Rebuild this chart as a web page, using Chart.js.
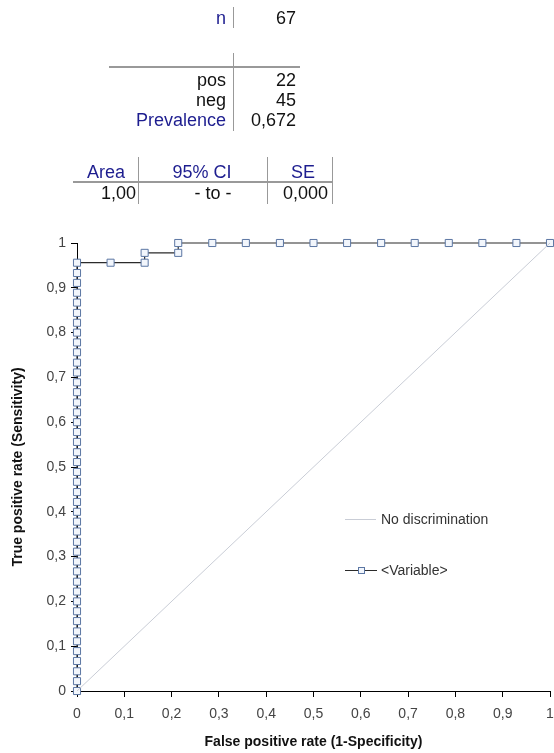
<!DOCTYPE html>
<html>
<head>
<meta charset="utf-8">
<script src="https://cdn.jsdelivr.net/npm/chart.js@4"></script>
<style>
  body { margin: 0; background: #fff; font-family: "Liberation Sans", Arial, sans-serif; }
  #wrap { position: relative; width: 554px; height: 753px; }
  #roc { position: absolute; left: 0; top: 0; }
  .t { position: absolute; font-size: 18px; color: #111; white-space: nowrap; line-height: 20px; }
  .blue { color: #1d1d8f; }
  .r { text-align: right; }
  .c { text-align: center; }
  .vl { position: absolute; width: 1px; background: #999; }
  .hl { position: absolute; height: 2px; background: #999; }
</style>
</head>
<body>
<div id="wrap">
  <canvas id="roc" width="554" height="753"></canvas>

  <div class="t blue r" style="left:150px;width:76px;top:8px">n</div>
  <div class="vl" style="left:233px;top:7px;height:21px"></div>
  <div class="t r" style="left:240px;width:56px;top:8px" id="nVal"></div>

  <div class="vl" style="left:233px;top:53px;height:78px"></div>
  <div class="hl" style="left:109px;top:66px;width:191px"></div>
  <div class="t r" style="left:110px;width:116px;top:70px">pos</div>
  <div class="t r" style="left:110px;width:116px;top:90px">neg</div>
  <div class="t blue r" style="left:110px;width:116px;top:110px">Prevalence</div>
  <div class="t r" style="left:240px;width:56px;top:70px" id="posVal"></div>
  <div class="t r" style="left:240px;width:56px;top:90px" id="negVal"></div>
  <div class="t r" style="left:240px;width:56px;top:110px" id="prevVal"></div>

  <div class="vl" style="left:138px;top:157px;height:47px"></div>
  <div class="vl" style="left:267px;top:157px;height:47px"></div>
  <div class="vl" style="left:332px;top:157px;height:47px"></div>
  <div class="hl" style="left:73px;top:181px;width:260px"></div>
  <div class="t blue c" style="left:66px;width:80px;top:162px">Area</div>
  <div class="t blue c" style="left:152px;width:100px;top:162px">95% CI</div>
  <div class="t blue c" style="left:273px;width:60px;top:162px">SE</div>
  <div class="t r" style="left:60px;width:76px;top:183px" id="areaVal"></div>
  <div class="t c" style="left:163px;width:100px;top:183px">- to -</div>
  <div class="t r" style="left:268px;width:60px;top:183px" id="seVal"></div>
</div>

<script>
// summary table values
const countN = "67";
const countPos = "22";
const countNeg = "45";
const prevalence = "0,672";
const aucArea = "1,00";
const aucSE = "0,000";

// ROC curve points
const fprValues = [
  0, 0, 0, 0, 0, 0, 0, 0, 0, 0, 0, 0, 0, 0, 0, 0, 0, 0, 0, 0, 0, 0,
  0, 0, 0, 0, 0, 0, 0, 0, 0, 0, 0, 0, 0, 0, 0, 0, 0, 0, 0, 0, 0, 0,
  0.071, 0.143, 0.143, 0.214, 0.214, 0.286, 0.357, 0.429, 0.5, 0.571,
  0.643, 0.714, 0.786, 0.857, 0.929, 1
];
const tprValues = [
  0, 0.022, 0.044, 0.067, 0.089, 0.111, 0.133, 0.156, 0.178, 0.2, 0.222,
  0.244, 0.267, 0.289, 0.311, 0.333, 0.356, 0.378, 0.4, 0.422, 0.444, 0.467,
  0.489, 0.511, 0.533, 0.556, 0.578, 0.6, 0.622, 0.644, 0.667, 0.689, 0.711,
  0.733, 0.756, 0.778, 0.8, 0.822, 0.844, 0.867, 0.889, 0.911, 0.933, 0.956,
  0.956, 0.956, 0.978, 0.978, 1, 1, 1, 1, 1, 1,
  1, 1, 1, 1, 1, 1
];
const diagX = [0, 1];
const diagY = [0, 1];
const seriesNames = ["No discrimination", "<Variable>"];

document.getElementById('nVal').textContent = countN;
document.getElementById('posVal').textContent = countPos;
document.getElementById('negVal').textContent = countNeg;
document.getElementById('prevVal').textContent = prevalence;
document.getElementById('areaVal').textContent = aucArea;
document.getElementById('seVal').textContent = aucSE;

const lineCol = '#2b2b2b';
const markerEdge = '#5b76a3';
const markerFill = '#f2f6fc';
const diagCol = '#c9cdd6';

const rocPoints = fprValues.map((x, i) => ({x: x, y: tprValues[i]}));
const diagPoints = diagX.map((x, i) => ({x: x, y: diagY[i]}));

const commaFmt = v => {
  const r = Math.round(v * 10) / 10;
  return String(r).replace('.', ',');
};

// legend drawn by hand inside the plot
const innerLegend = {
  id: 'innerLegend',
  afterDraw(chart) {
    const c = chart.ctx;
    c.save();
    c.font = '14px "Liberation Sans", Arial, sans-serif';
    c.textBaseline = 'middle';
    c.fillStyle = '#333';
    // no discrimination
    c.strokeStyle = diagCol;
    c.lineWidth = 1;
    c.beginPath(); c.moveTo(345, 519.5); c.lineTo(376, 519.5); c.stroke();
    c.fillText(seriesNames[0], 381, 520);
    // variable
    c.strokeStyle = lineCol;
    c.beginPath(); c.moveTo(345, 570.5); c.lineTo(377, 570.5); c.stroke();
    c.fillStyle = markerFill;
    c.strokeStyle = markerEdge;
    c.fillRect(358, 567, 7, 7);
    c.strokeRect(358.5, 567.5, 6, 6);
    c.fillStyle = '#333';
    c.fillText(seriesNames[1], 381, 571);
    c.restore();
  }
};

new Chart(document.getElementById('roc'), {
  type: 'scatter',
  data: {
    datasets: [
      {
        label: seriesNames[0],
        data: diagPoints,
        showLine: true,
        borderColor: diagCol,
        borderWidth: 1,
        pointRadius: 0,
        clip: false
      },
      {
        label: seriesNames[1],
        data: rocPoints,
        showLine: true,
        borderColor: lineCol,
        borderWidth: 1.2,
        pointStyle: 'rect',
        pointRadius: 5,
        pointBorderWidth: 1,
        pointBorderColor: markerEdge,
        pointBackgroundColor: markerFill,
        clip: false
      }
    ]
  },
  options: {
    responsive: false,
    animation: false,
    layout: { autoPadding: false, padding: { top: 243, right: 4, left: 0, bottom: 0 } },
    plugins: { legend: { display: false }, tooltip: { enabled: false } },
    scales: {
      x: {
        type: 'linear', min: 0, max: 1,
        afterFit: s => { s.height = 62; s.paddingRight = 0; s.paddingLeft = 0; },
        ticks: { stepSize: 0.1, padding: 9, color: '#444',
                 font: { size: 14, family: '"Liberation Sans", Arial' },
                 callback: commaFmt, maxRotation: 0 },
        grid: { drawOnChartArea: false, tickLength: 6, tickColor: '#000' },
        border: { color: '#000', width: 1 },
        title: { display: true, text: 'False positive rate (1-Specificity)',
                 color: '#111', padding: { top: 2, bottom: 2 },
                 font: { size: 14, weight: 'bold', family: '"Liberation Sans", Arial' } }
      },
      y: {
        type: 'linear', min: 0, max: 1,
        afterFit: s => { s.width = 77; s.paddingTop = 0; s.paddingBottom = 0; },
        ticks: { stepSize: 0.1, padding: 5, color: '#444',
                 font: { size: 14, family: '"Liberation Sans", Arial' },
                 callback: commaFmt },
        grid: { drawOnChartArea: false, tickLength: 6, tickColor: '#000' },
        border: { color: '#000', width: 1 },
        title: { display: true, text: 'True positive rate (Sensitivity)',
                 color: '#111', padding: { top: 10, bottom: 2 },
                 font: { size: 14, weight: 'bold', family: '"Liberation Sans", Arial' } }
      }
    }
  },
  plugins: [innerLegend]
});
</script>
</body>
</html>
